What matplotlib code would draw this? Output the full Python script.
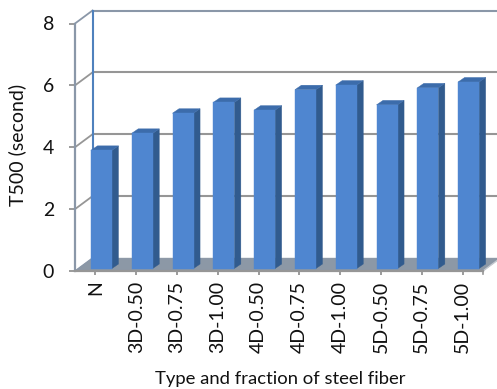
import matplotlib
matplotlib.use("Agg")
import matplotlib.pyplot as plt
from matplotlib.patches import Polygon

categories = ["N", "3D-0.50", "3D-0.75", "3D-1.00", "4D-0.50",
              "4D-0.75", "4D-1.00", "5D-0.50", "5D-0.75", "5D-1.00"]
t500 = [3.82, 4.37, 5.02, 5.37, 5.12, 5.78, 5.93, 5.29, 5.84, 6.03]
y_ticks = [0, 2, 4, 6, 8]

W, H = 497, 389
plt.rcParams["font.family"] = ["Lato", "DejaVu Sans"]

fig = plt.figure(figsize=(W / 100, H / 100), dpi=100)
left, right, bottom, top = 75, 483, 271, 23.5
ax = fig.add_axes([left / W, 1 - bottom / H, (right - left) / W, (bottom - top) / H])
n = len(categories)
ax.set_xlim(0, n)
ax.set_ylim(0, 8)
ax.patch.set_alpha(0)
for s in ax.spines.values():
    s.set_visible(False)

# Oblique projection: depth of the chart box and of each column, in data units
DX, DY = 17.5 / 40.8, 13 / 31
BAR_START = 0.39
BAR_BASE = 0.08
BAR_W = 0.515
BAR_DX, BAR_DY = 0.16, 0.145

WALL = "#8a97a8"
GRID = "#969696"
BACK_EDGE = "#4f81bd"
FLOOR = "#8c98a6"
FRONT = "#4f86d0"
TOP = "#3c6cab"
SIDE = "#315b8e"


def add_poly(points, color, z):
    ax.add_patch(Polygon(points, closed=True, facecolor=color, edgecolor=color,
                         linewidth=0.3, zorder=z, clip_on=False))


add_poly([(0, 0), (n, 0), (n + DX, DY), (DX, DY)], FLOOR, 1)

# Back wall gridlines and their returns along the side wall
for v in y_ticks[1:]:
    c = WALL if v == 8 else GRID
    ax.plot([DX, n + DX + 1], [v + DY, v + DY], color=c, lw=1.5, zorder=1, clip_on=False)
    ax.plot([0, DX], [v, v + DY], color=c, lw=1.3, zorder=1, clip_on=False)
ax.plot([DX, DX], [DY, 8 + DY], color=BACK_EDGE, lw=1.5, zorder=2, clip_on=False)
ax.plot([0, DX], [0, DY], color=WALL, lw=1.0, zorder=2, clip_on=False)
ax.plot([0, 0], [0, 8], color=WALL, lw=1.6, zorder=2, clip_on=False)
ax.plot([n, n + DX], [0, DY], color="#c4c9d0", lw=1.0, zorder=2, clip_on=False)

# Column tops sit above the base of the column, which stands back from the front edge
for i, v in enumerate(t500):
    x0 = i + BAR_START
    x1 = x0 + BAR_W
    y0 = BAR_BASE
    y1 = BAR_BASE + v
    add_poly([(x1, y0), (x1 + BAR_DX, y0 + BAR_DY), (x1 + BAR_DX, y1 + BAR_DY), (x1, y1)], SIDE, 3)
    add_poly([(x0, y1), (x1, y1), (x1 + BAR_DX, y1 + BAR_DY), (x0 + BAR_DX, y1 + BAR_DY)], TOP, 3)
    add_poly([(x0, y0), (x1, y0), (x1, y1), (x0, y1)], FRONT, 4)

ax.plot([0, n], [0, 0], color=GRID, lw=1.6, zorder=5, clip_on=False)

ax.set_yticks(y_ticks)
ax.set_xticks([i + 0.5 for i in range(n)], categories, rotation=90)
ax.tick_params(axis="y", length=4, width=1.2, color="#8a8a8a", pad=11, labelsize=14,
               labelcolor="#111111")
ax.tick_params(axis="x", length=3, width=1.2, color="#8a8a8a", pad=4,
               labelsize=14, labelcolor="#111111")
ax.plot([n, n], [0, -0.1], color=GRID, lw=1.2, clip_on=False, zorder=5)

fig.text(17 / W, 1 - 145 / H, "T500 (second)", rotation=90, ha="center", va="center",
         fontsize=14, color="#111111")
fig.text(280 / W, 1 - 379 / H, "Type and fraction of steel fiber", ha="center", va="center",
         fontsize=13.3, color="#111111")

fig.savefig("out.png", dpi=100, facecolor="white")
